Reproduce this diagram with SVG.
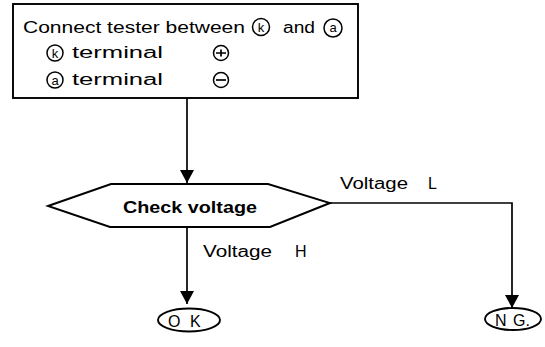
<svg xmlns="http://www.w3.org/2000/svg" width="545" height="347" viewBox="0 0 545 347">
<style>
.ln{fill:none;stroke:#000;stroke-width:1.7}
.t{font-family:"Liberation Sans",Arial,sans-serif;font-size:16px;fill:#000}
.b{font-family:"Liberation Sans",Arial,sans-serif;font-size:17px;font-weight:bold;fill:#000}
.c{font-family:"Liberation Sans",Arial,sans-serif;font-size:13px;fill:#000;text-anchor:middle}
.cir{fill:#fff;stroke:#000;stroke-width:1.5}
</style>
<defs>
<marker id="arr" markerUnits="userSpaceOnUse" markerWidth="14" markerHeight="14" viewBox="0 0 14 14" refX="13" refY="7" orient="auto">
<path d="M0,0 L13,7 L0,14 Z" fill="#000"/>
</marker>
</defs>
<g id="connectors">
<path class="ln" d="M187,98 V183" marker-end="url(#arr)"/>
<path class="ln" d="M187,227 V304" marker-end="url(#arr)"/>
<path class="ln" d="M330,203 H512 V308" marker-end="url(#arr)"/>
</g>
<g id="start">
<rect x="13" y="4" width="345" height="94" fill="#fff" stroke="#000" stroke-width="1.9"/>
<text class="t" x="23" y="33" textLength="222" lengthAdjust="spacingAndGlyphs">Connect tester between</text>
<circle class="cir" cx="261" cy="27" r="8.5"/>
<text class="c" x="261" y="32">k</text>
<text class="t" x="283" y="33" textLength="32" lengthAdjust="spacingAndGlyphs">and</text>
<circle class="cir" cx="333" cy="28" r="9"/>
<text class="c" x="333" y="32">a</text>
<circle class="cir" cx="55" cy="53" r="8"/>
<text class="c" x="55" y="58">k</text>
<text class="t" x="72" y="58" textLength="91" lengthAdjust="spacingAndGlyphs">terminal</text>
<circle class="cir" cx="221" cy="53" r="7.5"/>
<path class="ln" d="M216,53 H226 M221,49.5 V56.5" stroke-width="1.2"/>
<circle class="cir" cx="55" cy="80" r="8"/>
<text class="c" x="55" y="84.5">a</text>
<text class="t" x="72" y="85" textLength="91" lengthAdjust="spacingAndGlyphs">terminal</text>
<circle class="cir" cx="221" cy="80" r="7.5"/>
<path class="ln" d="M216,80 H226" stroke-width="1.2"/>
</g>
<g id="check">
<polygon points="48,206 111,184 268,184 330,203 270,227 110,227" fill="#fff" stroke="#000" stroke-width="1.9"/>
<text class="b" x="123" y="213" textLength="134" lengthAdjust="spacingAndGlyphs">Check voltage</text>
</g>
<g id="labels">
<text class="t" x="340" y="189"><tspan textLength="68" lengthAdjust="spacingAndGlyphs">Voltage</tspan><tspan x="428">L</tspan></text>
<text class="t" x="203" y="257"><tspan textLength="69" lengthAdjust="spacingAndGlyphs">Voltage</tspan><tspan x="295">H</tspan></text>
</g>
<g id="ok">
<ellipse cx="189" cy="320" rx="31" ry="11.5" fill="#fff" stroke="#000" stroke-width="1.9"/>
<text class="t" x="168" y="326.5" font-size="17">O<tspan x="190">K</tspan></text>
</g>
<g id="ng">
<ellipse cx="513" cy="319" rx="28" ry="11" fill="#fff" stroke="#000" stroke-width="1.9"/>
<text class="t" x="495" y="325.5" font-size="16">N<tspan x="513">G.</tspan></text>
</g>
</svg>
